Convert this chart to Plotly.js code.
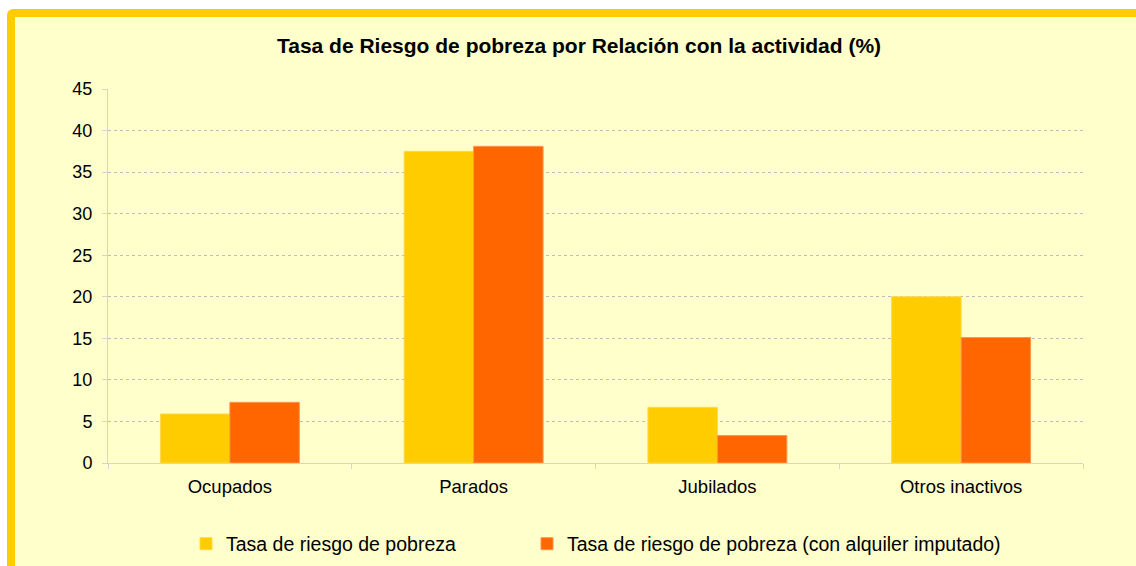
<!DOCTYPE html>
<html>
<head>
<meta charset="utf-8">
<script src="https://cdn.plot.ly/plotly-3.0.1.min.js"></script>
<style>
  html, body { margin: 0; padding: 0; width: 1136px; height: 566px; overflow: hidden; background: #ffffff; }
  #frame { position: absolute; left: 7px; top: 9px; width: 1200px; height: 600px;
           border: 8px solid #FFCC00; border-radius: 6px; background: #FFFFCC; }
  #chart { position: absolute; left: 0; top: 0; width: 1136px; height: 566px; }
</style>
</head>
<body>
<div id="frame"></div>
<div id="chart"></div>
<script>
const categories = ["Ocupados", "Parados", "Jubilados", "Otros inactivos"];
const seriesNames = ["Tasa de riesgo de pobreza", "Tasa de riesgo de pobreza (con alquiler imputado)"];
const tasaRiesgo = [5.9, 37.5, 6.7, 20.0];
const tasaRiesgoAlquiler = [7.3, 38.1, 3.3, 15.1];
const yTicks = [0, 5, 10, 15, 20, 25, 30, 35, 40, 45];
const chartTitle = "Tasa de Riesgo de pobreza por Relación con la actividad (%)";

const font = "Liberation Sans, Arial, sans-serif";

const traces = [
  { type: "bar", name: seriesNames[0], x: categories, y: tasaRiesgo, legend: "legend",
    marker: { color: "#FFCC00", line: { color: "#FFD84D", width: 1 } }, hoverinfo: "y" },
  { type: "bar", name: seriesNames[1], x: categories, y: tasaRiesgoAlquiler, legend: "legend2",
    marker: { color: "#FF6600", line: { color: "#FF9350", width: 1 } }, hoverinfo: "y" }
];

const legendCommon = { orientation: "h", xanchor: "left", yanchor: "middle", y: -0.2166,
  bgcolor: "rgba(0,0,0,0)", font: { family: font, size: 19.5, color: "#000" } };

const layout = {
  width: 1136, height: 566,
  paper_bgcolor: "rgba(0,0,0,0)", plot_bgcolor: "rgba(0,0,0,0)",
  margin: { l: 108, r: 53, t: 89, b: 103, autoexpand: false },
  font: { family: font, color: "#000000", size: 16 },
  title: { text: "<b>" + chartTitle + "</b>", font: { family: font, size: 21, color: "#000" },
           xref: "container", x: 579 / 1136, xanchor: "center",
           yref: "container", y: (566 - 46) / 566, yanchor: "middle" },
  barmode: "group", bargap: 0.43, bargroupgap: 0,
  xaxis: { type: "category", showline: true, linecolor: "#D4D4D4", linewidth: 1,
           ticks: "outside", tickson: "boundaries", ticklen: 5, tickcolor: "#D4D4D4",
           ticklabelstandoff: 7,
           showgrid: false, tickfont: { family: font, size: 18.5, color: "#000" } },
  yaxis: { range: [0, 45], tickvals: yTicks, showline: true, linecolor: "#D4D4D4", linewidth: 1,
           ticks: "outside", ticklen: 5, tickcolor: "#D4D4D4", ticklabelstandoff: 6,
           showgrid: true, gridcolor: "#BDBDBD", griddash: "dot", gridwidth: 1,
           zeroline: false, tickfont: { family: font, size: 18, color: "#000" } },
  showlegend: true,
  legend: Object.assign({}, legendCommon, { x: (186 - 108) / 975 }),
  legend2: Object.assign({}, legendCommon, { x: (527 - 108) / 975 })
};

Plotly.newPlot("chart", traces, layout, { displayModeBar: false, staticPlot: true });
</script>
</body>
</html>
